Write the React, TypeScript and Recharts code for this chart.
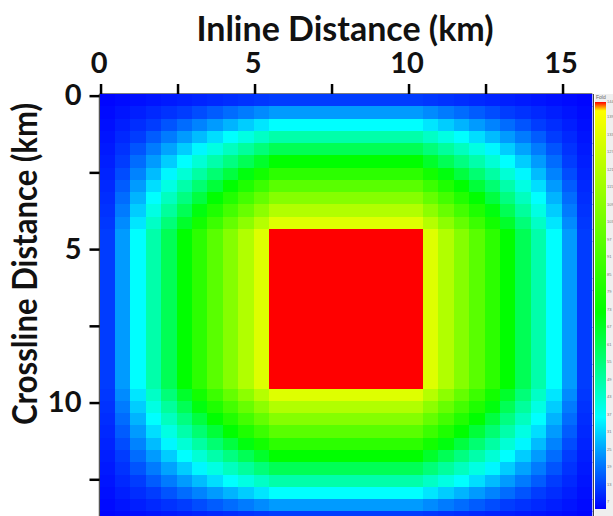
import { ScatterChart, Scatter, BarChart, Bar, XAxis, YAxis, Label } from 'recharts'

const inlineTicks = [0, 2.5, 5, 7.5, 10, 12.5, 15]
const crosslineTicks = [0, 2.5, 5, 7.5, 10, 12.5]
const foldTicks = [7, 13, 19, 25, 31, 37, 43, 49, 55, 61, 67, 73, 79, 85, 91, 97, 103, 109, 115, 121, 127, 133, 139, 144]

// fold counts, one list per crossline bin
const row1 = [1, 2, 3, 4, 5, 6, 7, 8, 9, 10, 11, 12, 12, 12, 12, 12, 12, 12, 12, 12, 12, 11, 10, 9, 8, 7, 6, 5, 4, 3, 2, 1]
const row2 = [2, 4, 6, 8, 10, 12, 14, 16, 18, 20, 22, 24, 24, 24, 24, 24, 24, 24, 24, 24, 24, 22, 20, 18, 16, 14, 12, 10, 8, 6, 4, 2]
const row3 = [3, 6, 9, 12, 15, 18, 21, 24, 27, 30, 33, 36, 36, 36, 36, 36, 36, 36, 36, 36, 36, 33, 30, 27, 24, 21, 18, 15, 12, 9, 6, 3]
const row4 = [4, 8, 12, 16, 20, 24, 28, 32, 36, 40, 44, 48, 48, 48, 48, 48, 48, 48, 48, 48, 48, 44, 40, 36, 32, 28, 24, 20, 16, 12, 8, 4]
const row5 = [5, 10, 15, 20, 25, 30, 35, 40, 45, 50, 55, 60, 60, 60, 60, 60, 60, 60, 60, 60, 60, 55, 50, 45, 40, 35, 30, 25, 20, 15, 10, 5]
const row6 = [6, 12, 18, 24, 30, 36, 42, 48, 54, 60, 66, 72, 72, 72, 72, 72, 72, 72, 72, 72, 72, 66, 60, 54, 48, 42, 36, 30, 24, 18, 12, 6]
const row7 = [7, 14, 21, 28, 35, 42, 49, 56, 63, 70, 77, 84, 84, 84, 84, 84, 84, 84, 84, 84, 84, 77, 70, 63, 56, 49, 42, 35, 28, 21, 14, 7]
const row8 = [8, 16, 24, 32, 40, 48, 56, 64, 72, 80, 88, 96, 96, 96, 96, 96, 96, 96, 96, 96, 96, 88, 80, 72, 64, 56, 48, 40, 32, 24, 16, 8]
const row9 = [9, 18, 27, 36, 45, 54, 63, 72, 81, 90, 99, 108, 108, 108, 108, 108, 108, 108, 108, 108, 108, 99, 90, 81, 72, 63, 54, 45, 36, 27, 18, 9]
const row10 = [10, 20, 30, 40, 50, 60, 70, 80, 90, 100, 110, 120, 120, 120, 120, 120, 120, 120, 120, 120, 120, 110, 100, 90, 80, 70, 60, 50, 40, 30, 20, 10]
const row11 = [11, 22, 33, 44, 55, 66, 77, 88, 99, 110, 121, 132, 132, 132, 132, 132, 132, 132, 132, 132, 132, 121, 110, 99, 88, 77, 66, 55, 44, 33, 22, 11]
const row12 = [12, 24, 36, 48, 60, 72, 84, 96, 108, 120, 132, 144, 144, 144, 144, 144, 144, 144, 144, 144, 144, 132, 120, 108, 96, 84, 72, 60, 48, 36, 24, 12]

const foldRows = [
  row1, row2, row3, row4, row5, row6, row7, row8, row9, row10, row11,
  row12, row12, row12, row12, row12, row12, row12, row12, row12, row12, row12, row12, row12,
  row11, row10, row9, row8, row7, row6, row5, row4, row3, row2, row1
]

const colorStops: [number, number[]][] = [
  [0, [0, 0, 255]],
  [12, [0, 60, 255]],
  [24, [0, 155, 255]],
  [36, [0, 255, 255]],
  [72, [0, 255, 0]],
  [141, [255, 255, 0]],
  [144, [255, 0, 0]]
]

const BIN_X = 0.5
const BIN_Y = 0.4
const START_X = -0.05
const START_Y = -0.07
const END_X = 15.95
const END_Y = 13.68

const WIDTH = 613
const HEIGHT = 516
const AXIS_LEFT = 99.5
const AXIS_TOP = 94
const PLOT_RIGHT = 20.7

const FONT = 'Lato, sans-serif'

const foldColor = (fold: number) => {
  for (let i = 1; i < colorStops.length; i++) {
    const [f0, c0] = colorStops[i - 1]
    const [f1, c1] = colorStops[i]
    if (fold <= f1) {
      const t = (fold - f0) / (f1 - f0)
      const c = c0.map((v, j) => Math.round(v + (c1[j] - v) * t))
      return `rgb(${c.join(',')})`
    }
  }
  return 'rgb(255,0,0)'
}

// one point per bin, at the bin centre
const bins = foldRows.flatMap((row, r) =>
  row.map((fold, c) => ({
    inline: START_X + (c + 0.5) * BIN_X,
    crossline: START_Y + (r + 0.5) * BIN_Y,
    fold
  }))
)

const binW = (BIN_X * (WIDTH - AXIS_LEFT - PLOT_RIGHT)) / (END_X - START_X)
const binH = (BIN_Y * (HEIGHT - AXIS_TOP)) / (END_Y - START_Y)

const BinShape = (props: any) => (
  <rect
    x={props.cx - binW / 2}
    y={props.cy - binH / 2}
    width={binW + 0.5}
    height={binH + 0.5}
    fill={foldColor(props.payload?.fold ?? props.fold)}
    shapeRendering="crispEdges"
  />
)

const tickStyle = { fontFamily: FONT, fontSize: 29, fontWeight: 700, fill: '#111' }
const titleStyle = { fontFamily: FONT, fontSize: 34, fontWeight: 700, fill: '#111' }

const FoldChart = () => (
  <ScatterChart
    width={WIDTH}
    height={HEIGHT}
    margin={{ top: 0, right: PLOT_RIGHT, bottom: 0, left: 0 }}
    style={{ position: 'absolute', left: 0, top: 0 }}
  >
    <XAxis
      dataKey="inline"
      type="number"
      orientation="top"
      height={AXIS_TOP}
      domain={[START_X, END_X]}
      ticks={inlineTicks}
      interval={0}
      allowDataOverflow
      tickFormatter={(v: number) => (v % 5 === 0 ? String(v) : '')}
      tick={{ ...tickStyle, dx: -2 }}
      tickSize={10}
      tickMargin={11}
      axisLine={{ stroke: '#555', strokeWidth: 1.5 }}
      tickLine={{ stroke: '#000', strokeWidth: 2.5 }}
    >
      <Label
        content={() => (
          <text x={345} y={41} textAnchor="middle" style={titleStyle}>
            Inline Distance (km)
          </text>
        )}
      />
    </XAxis>
    <YAxis
      dataKey="crossline"
      type="number"
      reversed
      width={AXIS_LEFT}
      domain={[START_Y, END_Y]}
      ticks={crosslineTicks}
      interval={0}
      allowDataOverflow
      tickFormatter={(v: number) => (v % 5 === 0 ? String(v) : '')}
      tick={{ ...tickStyle, dy: -1 }}
      tickSize={10}
      tickMargin={8}
      axisLine={{ stroke: '#555', strokeWidth: 1.5 }}
      tickLine={{ stroke: '#000', strokeWidth: 2.5 }}
    >
      <Label
        content={() => (
          <text
            x={37}
            y={264}
            textAnchor="middle"
            textLength={322}
            lengthAdjust="spacingAndGlyphs"
            transform="rotate(-90 37 264)"
            style={titleStyle}
          >
            Crossline Distance (km)
          </text>
        )}
      />
    </YAxis>
    <Scatter data={bins} shape={BinShape} isAnimationActive={false} />
  </ScatterChart>
)

const foldBar = [{ name: 'Fold', fold: 144 }]

const FoldLegend = () => (
  <div
    style={{
      position: 'absolute',
      left: 593,
      top: AXIS_TOP,
      width: 20,
      height: 422,
      background: '#efefef',
      overflow: 'hidden',
      boxSizing: 'border-box',
      borderLeft: '1px solid #444'
    }}
  >
    <div style={{ position: 'absolute', left: 0, top: 0, width: 1, height: 422, background: '#fff' }} />
    <div style={{ position: 'absolute', left: 2, top: 0, fontFamily: 'Liberation Sans, sans-serif', fontSize: 5, color: '#666' }}>
      Fold
    </div>
    <BarChart width={19} height={422} data={foldBar} margin={{ top: 8, right: 0, bottom: 7, left: 1 }} barCategoryGap={0}>
      <defs>
        <linearGradient id="foldScale" x1="0" y1="1" x2="0" y2="0">
          {colorStops.map(([f, c]) => (
            <stop key={f} offset={`${Math.max(0, ((f - 4.5) / 139.5) * 100)}%`} stopColor={`rgb(${c.join(',')})`} />
          ))}
        </linearGradient>
      </defs>
      <XAxis dataKey="name" hide />
      <YAxis
        orientation="right"
        width={7.5}
        domain={[4.5, 144]}
        ticks={foldTicks}
        interval={0}
        allowDataOverflow
        axisLine={false}
        tickLine={false}
        tickSize={0}
        tickMargin={1.5}
        tick={{ fontFamily: 'Liberation Sans, sans-serif', fontSize: 4, fill: '#777' }}
      />
      <Bar dataKey="fold" fill="url(#foldScale)" isAnimationActive={false} />
    </BarChart>
  </div>
)

export default function App() {
  return (
    <div style={{ position: 'absolute', left: 0, top: 0, width: WIDTH, height: HEIGHT, background: '#fff', overflow: 'hidden' }}>
      <FoldChart />
      <FoldLegend />
    </div>
  )
}
